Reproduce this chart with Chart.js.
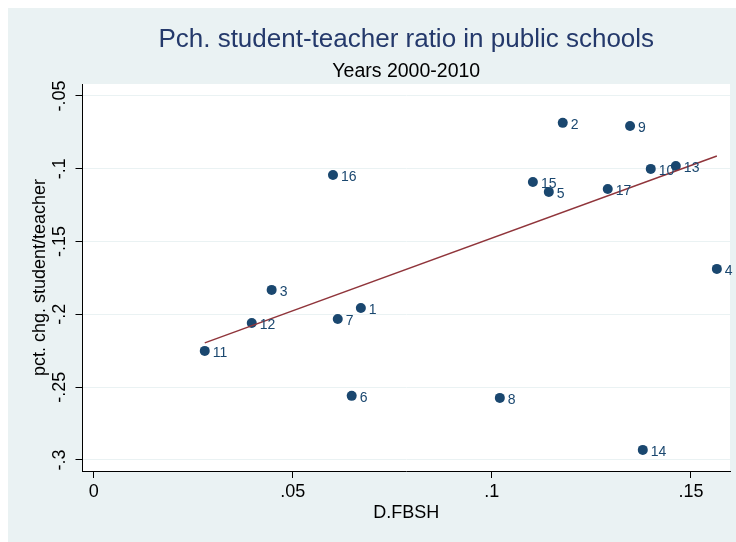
<!DOCTYPE html>
<html>
<head>
<meta charset="utf-8">
<script src="https://cdn.jsdelivr.net/npm/chart.js@4"></script>
<style>
html,body{margin:0;padding:0;background:#ffffff;}
#c{display:block;}
</style>
</head>
<body>
<canvas id="c" width="736" height="542"></canvas>
<script>
// ---- data ----
const stateIds = ["1","2","3","4","5","6","7","8","9","10","11","12","13","14","15","16","17"];
const fbshChange = [0.0671,0.1178,0.0447,0.1565,0.1143,0.0648,0.0613,0.1020,0.1347,0.1399,0.0279,0.0397,0.1462,0.1379,0.1103,0.0601,0.1291];
const ratioChange = [-0.1956,-0.0685,-0.1832,-0.1688,-0.1159,-0.2560,-0.2032,-0.2574,-0.0706,-0.1001,-0.2251,-0.2059,-0.0981,-0.2931,-0.1091,-0.1043,-0.1139];
const fitLineX = [0.0279, 0.1565];
const fitLineY = [-0.2196, -0.0912];
const xTickValues = [0, 0.05, 0.1, 0.15];
const xTickLabels = ["0", ".05", ".1", ".15"];
const yTickValues = [-0.05, -0.1, -0.15, -0.2, -0.25, -0.3];
const yTickLabels = ["-.05", "-.1", "-.15", "-.2", "-.25", "-.3"];
const titleText = "Pch. student-teacher ratio in public schools";
const subtitleText = "Years 2000-2010";

const FONT = "'Liberation Sans', Arial, Helvetica, sans-serif";
const PANEL = "#eaf2f3";
const NAVY = "#1a476f";
const MAROON = "#90353b";

const bgPlugin = {
  id: 'bg',
  beforeDraw(chart) {
    const {ctx, chartArea} = chart;
    ctx.save();
    ctx.fillStyle = '#ffffff';
    ctx.fillRect(0, 0, chart.width, chart.height);
    ctx.fillStyle = PANEL;
    ctx.fillRect(8, 8, chart.width - 8, chart.height - 8);
    ctx.fillStyle = '#ffffff';
    ctx.fillRect(chartArea.left, chartArea.top, chartArea.right - chartArea.left, chartArea.bottom - chartArea.top);
    ctx.restore();
  },
  afterDraw(chart) {
    const {ctx, chartArea} = chart;
    const cx = (chartArea.left + chartArea.right) / 2;
    ctx.save();
    ctx.textAlign = 'center';
    ctx.textBaseline = 'middle';
    ctx.fillStyle = '#24396b';
    ctx.font = '26px ' + FONT;
    ctx.fillText(titleText, cx, 40);
    ctx.fillStyle = '#000000';
    ctx.font = '19.5px ' + FONT;
    ctx.fillText(subtitleText, cx, 72);
    ctx.restore();
  }
};

const labelPlugin = {
  id: 'pointLabels',
  afterDatasetsDraw(chart) {
    const meta = chart.getDatasetMeta(1);
    const ctx = chart.ctx;
    ctx.save();
    ctx.fillStyle = NAVY;
    ctx.font = '14px ' + FONT;
    ctx.textAlign = 'left';
    ctx.textBaseline = 'middle';
    meta.data.forEach((el, i) => {
      ctx.fillText(stateIds[i], el.x + 8, el.y + 2);
    });
    ctx.restore();
  }
};

new Chart(document.getElementById('c'), {
  data: {
    datasets: [
      {
        type: 'line',
        data: fitLineX.map((x, i) => ({x: x, y: fitLineY[i]})),
        borderColor: MAROON,
        borderWidth: 1.5,
        pointRadius: 0,
        fill: false,
        order: 0
      },
      {
        type: 'scatter',
        data: fbshChange.map((x, i) => ({x: x, y: ratioChange[i]})),
        backgroundColor: NAVY,
        borderColor: NAVY,
        borderWidth: 0,
        pointRadius: 5,
        order: 1
      }
    ]
  },
  options: {
    responsive: false,
    animation: false,
    devicePixelRatio: 1,
    layout: {padding: {left: 8, right: 6, top: 84, bottom: 0}},
    plugins: {legend: {display: false}, tooltip: {enabled: false}, title: {display: false}},
    scales: {
      x: {
        type: 'linear',
        min: -0.0028,
        max: 0.1598,
        afterBuildTicks(scale) { scale.ticks = xTickValues.map(v => ({value: v})); },
        afterFit(scale) { scale.height = 71; },
        ticks: {
          callback(v) { const i = xTickValues.findIndex(t => Math.abs(t - v) < 1e-9); return i >= 0 ? xTickLabels[i] : ''; },
          color: '#000000',
          font: {family: FONT, size: 18},
          padding: 3,
          maxRotation: 0,
          minRotation: 0
        },
        grid: {drawOnChartArea: false, drawTicks: true, tickLength: 7, tickColor: '#000000', tickWidth: 1},
        border: {display: true, color: '#000000', width: 1},
        title: {display: true, text: 'D.FBSH', color: '#000000', font: {family: FONT, size: 18}, padding: {top: 0, bottom: 18}}
      },
      y: {
        type: 'linear',
        min: -0.3076,
        max: -0.0418,
        afterBuildTicks(scale) { scale.ticks = yTickValues.map(v => ({value: v})); },
        afterFit(scale) { scale.width = 74.5; },
        ticks: {
          callback(v) { const i = yTickValues.findIndex(t => Math.abs(t - v) < 1e-9); return i >= 0 ? yTickLabels[i] : ''; },
          color: '#000000',
          font: {family: FONT, size: 18},
          padding: 0,
          minRotation: 90,
          maxRotation: 90,
          crossAlign: 'center'
        },
        grid: {drawOnChartArea: true, color: PANEL, lineWidth: 1, drawTicks: true, tickLength: 7, tickColor: '#000000', tickWidth: 1},
        border: {display: true, color: '#000000', width: 1},
        title: {display: true, text: 'pct. chg. student/teacher', color: '#000000', font: {family: FONT, size: 18}, padding: {top: 21, bottom: 0}}
      }
    }
  },
  plugins: [bgPlugin, labelPlugin]
});
</script>
</body>
</html>
